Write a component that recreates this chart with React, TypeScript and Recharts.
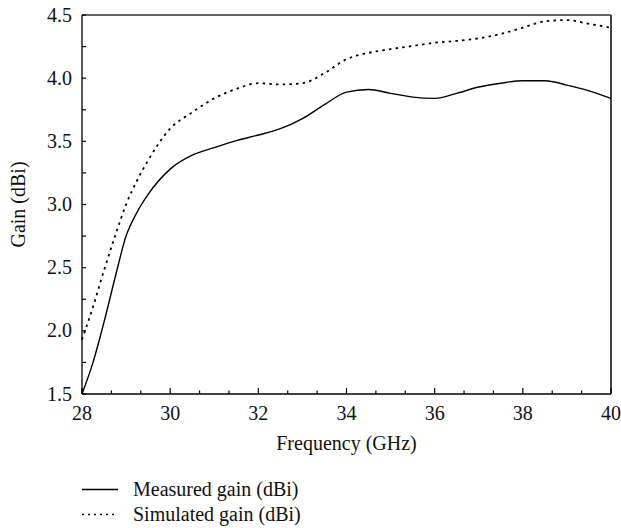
import { LineChart, Line, XAxis, YAxis, Legend, ReferenceLine } from "recharts";

const FONT = "Liberation Serif, Times New Roman, DejaVu Serif, serif";

// frequency points (GHz)
const freq = [28, 28.25, 28.5, 28.75, 29, 29.25, 29.5, 30, 30.5, 31, 31.5, 32, 32.5, 33, 33.5, 34, 34.5, 35, 35.5, 36, 36.5, 37, 37.5, 38, 38.5, 39, 39.5, 40];
const measured = [1.5, 1.75, 2.07, 2.42, 2.75, 2.94, 3.08, 3.28, 3.39, 3.45, 3.505, 3.55, 3.6, 3.68, 3.79, 3.89, 3.91, 3.88, 3.85, 3.84, 3.88, 3.93, 3.96, 3.98, 3.98, 3.945, 3.9, 3.84];
const simulated = [1.93, 2.19, 2.48, 2.75, 3.0, 3.19, 3.35, 3.6, 3.73, 3.84, 3.915, 3.96, 3.95, 3.96, 4.04, 4.15, 4.2, 4.23, 4.255, 4.28, 4.295, 4.315, 4.35, 4.4, 4.45, 4.46, 4.43, 4.4];

const xTicks = [28, 28 + 2 / 3, 28 + 4 / 3, 30, 30 + 2 / 3, 30 + 4 / 3, 32, 32 + 2 / 3, 32 + 4 / 3, 34, 34 + 2 / 3, 34 + 4 / 3, 36, 36 + 2 / 3, 36 + 4 / 3, 38, 38 + 2 / 3, 38 + 4 / 3, 40];
const xLabels = [28, 30, 32, 34, 36, 38, 40];
const yTicks = [1.5, 1.75, 2.0, 2.25, 2.5, 2.75, 3.0, 3.25, 3.5, 3.75, 4.0, 4.25, 4.5];
const yLabels = [1.5, 2.0, 2.5, 3.0, 3.5, 4.0, 4.5];

const series = [
  { key: "measured", name: "Measured gain (dBi)", dash: undefined },
  { key: "simulated", name: "Simulated gain (dBi)", dash: "2.5 4.2" },
];

const data = freq.map((f, i) => ({ f, measured: measured[i], simulated: simulated[i] }));

const near = (a: number, list: number[]) => list.some((v) => Math.abs(v - a) < 1e-6);

function XTick({ x, y, payload }: any) {
  const major = near(payload.value, xLabels);
  return (
    <g>
      <line x1={x} x2={x} y1={y} y2={y - (major ? 6 : 3.5)} stroke="#000" strokeWidth={1.2} />
      {major && (
        <text x={x} y={y + 26} textAnchor="middle" style={{ fontFamily: FONT, fontSize: 20 }} fill="#111">
          {Math.round(payload.value)}
        </text>
      )}
    </g>
  );
}

function YTick({ x, y, payload }: any) {
  const major = near(payload.value, yLabels);
  return (
    <g>
      <line x1={x} x2={x + 4} y1={y} y2={y} stroke="#000" strokeWidth={1.2} />
      {major && (
        <text x={x - 10} y={y + 6.6} textAnchor="end" style={{ fontFamily: FONT, fontSize: 20 }} fill="#111">
          {payload.value.toFixed(1)}
        </text>
      )}
    </g>
  );
}

function XTitle({ viewBox }: any) {
  const { x, y, width } = viewBox;
  return (
    <text x={x + width / 2} y={y + 56} textAnchor="middle" style={{ fontFamily: FONT, fontSize: 20 }} fill="#111">
      Frequency (GHz)
    </text>
  );
}

function YTitle({ viewBox }: any) {
  const { y, height } = viewBox;
  const cx = 25;
  const cy = y + height / 2;
  return (
    <text x={cx} y={cy} transform={`rotate(-90 ${cx} ${cy})`} textAnchor="middle" style={{ fontFamily: FONT, fontSize: 20 }} fill="#111">
      Gain (dBi)
    </text>
  );
}

function LegendBox() {
  return (
    <div style={{ fontFamily: FONT, fontSize: 20, color: "#111" }}>
      {series.map((s) => (
        <div key={s.key} style={{ display: "flex", alignItems: "center", height: 25, lineHeight: "25px" }}>
          <svg width={36} height={25} style={{ marginRight: 15 }}>
            <line x1={0} x2={36} y1={12.5} y2={12.5} stroke="#000" strokeWidth={s.dash ? 1.6 : 1.3} strokeDasharray={s.dash ? "2 4" : undefined} />
          </svg>
          <span>{s.name}</span>
        </div>
      ))}
    </div>
  );
}

export default function App() {
  return (
    <div style={{ position: "absolute", left: 0, top: 0, width: 621, height: 528, background: "#fff" }}>
      <LineChart width={621} height={528} data={data} margin={{ top: 15, right: 10, bottom: 0, left: 0 }}>
        <XAxis
          dataKey="f"
          type="number"
          domain={[28, 40]}
          ticks={xTicks}
          interval={0}
          height={134}
          tickSize={0}
          tickMargin={0}
          tickLine={false}
          axisLine={{ stroke: "#000", strokeWidth: 1.3 }}
          tick={<XTick />}
          label={<XTitle />}
        />
        <YAxis
          type="number"
          domain={[1.5, 4.5]}
          ticks={yTicks}
          interval={0}
          width={82}
          tickSize={0}
          tickMargin={0}
          tickLine={false}
          axisLine={{ stroke: "#000", strokeWidth: 1.3 }}
          tick={<YTick />}
          label={<YTitle />}
        />
        <ReferenceLine y={4.5} stroke="#333" strokeWidth={1.6} />
        <ReferenceLine x={40} stroke="#444" strokeWidth={2} />
        <Legend
          layout="vertical"
          align="center"
          verticalAlign="middle"
          content={<LegendBox />}
          wrapperStyle={{ left: 82, top: 477, width: 320, height: 50 }}
        />
        {series.map((s) => (
          <Line
            key={s.key}
            dataKey={s.key}
            name={s.name}
            type="monotone"
            stroke="#000"
            strokeWidth={s.dash ? 1.8 : 1.4}
            strokeDasharray={s.dash}
            dot={false}
            activeDot={false}
            isAnimationActive={false}
          />
        ))}
      </LineChart>
    </div>
  );
}
